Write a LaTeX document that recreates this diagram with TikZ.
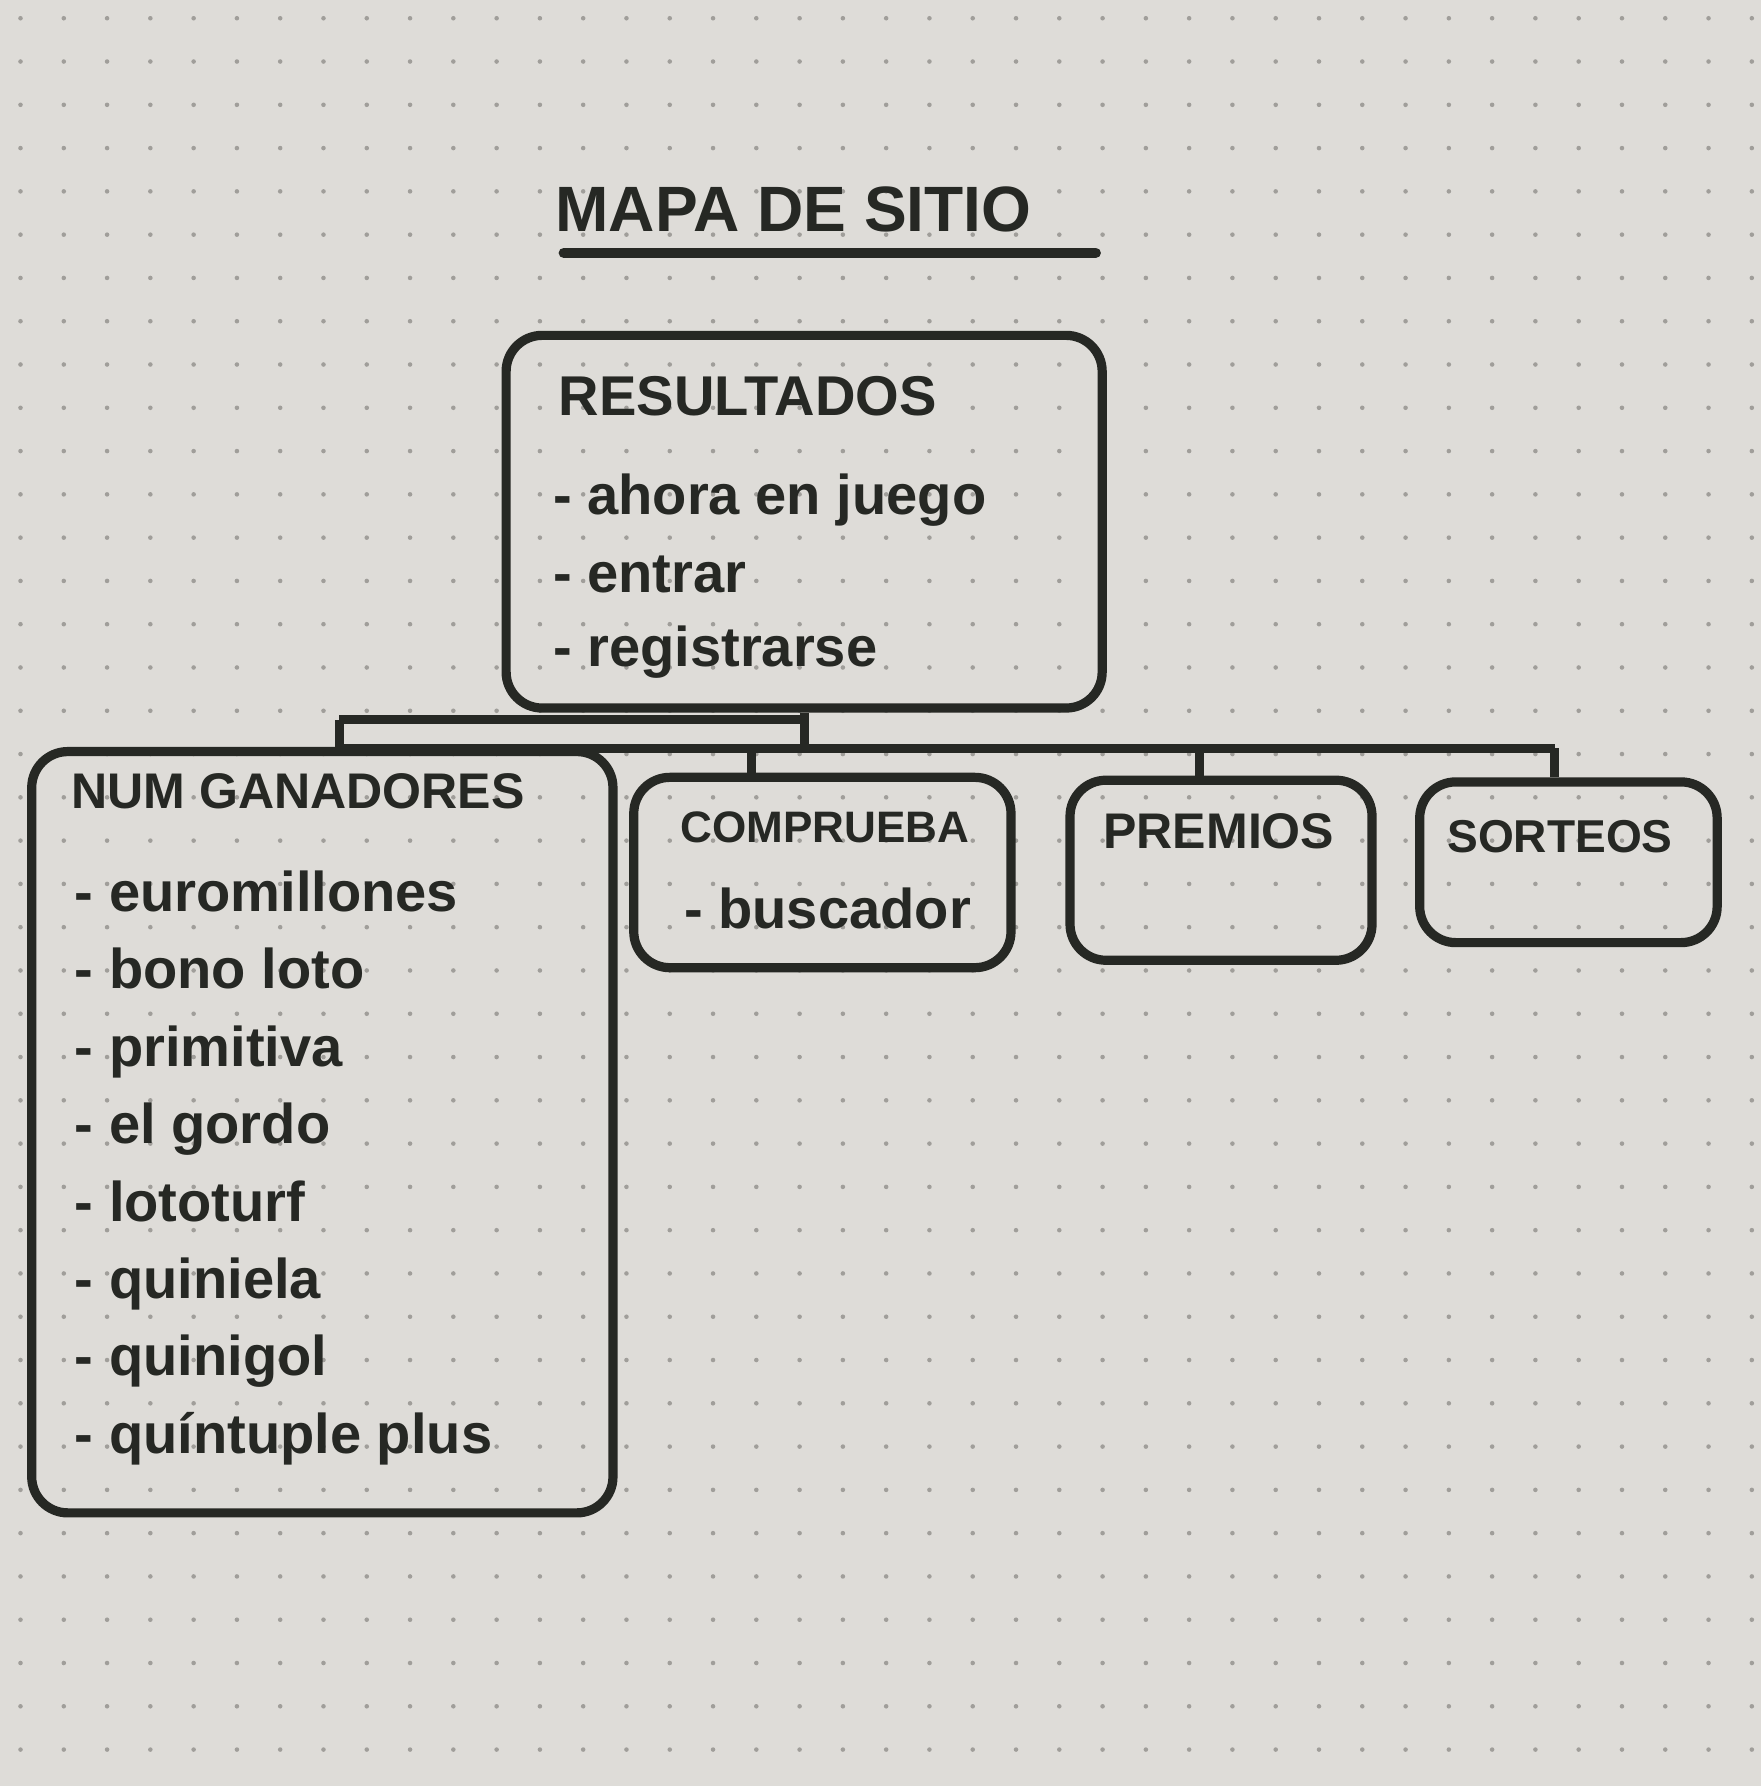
\documentclass[tikz,border=0pt]{standalone}
\usepackage{fontspec}
\setmainfont{Liberation Sans}
\definecolor{paper}{RGB}{222,220,216}
\definecolor{ink}{RGB}{38,40,36}
\definecolor{dotc}{RGB}{160,158,154}
\tikzset{
  box/.style={draw=ink, line width=2.3pt, rounded corners=9pt, inner sep=0pt},
  link/.style={draw=ink, line width=2.2pt},
  head/.style={anchor=base west, text=ink, inner sep=0pt, font=\bfseries\fontsize{12.5}{15}\selectfont},
  item/.style={anchor=base west, text=ink, inner sep=0pt, font=\bfseries\fontsize{14}{17}\selectfont},
}

\begin{document}
\begin{tikzpicture}[x=0.01cm, y=-0.01cm]
	\fill[paper] (0,0) rectangle (1546,1568);
	\useasboundingbox (0,0) rectangle (1546,1568);
	% dots of the paper
	\foreach \i in {0,...,40} \foreach \j in {0,...,41}
		\fill[dotc] (18+38*\i, 16+38*\j) circle (0.02cm);

	% title
	\node[anchor=base west, text=ink, inner sep=0pt, font=\bfseries\fontsize{16}{19}\selectfont] (title) at (487,203) {MAPA DE SITIO};
	\coordinate (ul1) at (495,222);
	\coordinate (ul2) at (962,222);
	\draw[ink, line width=2.6pt, line cap=round] (ul1) -- (ul2);

	% boxes
	\node[box, minimum width=5.23cm, minimum height=3.27cm] (res) at (706,458) {};
	\node[box, minimum width=5.10cm, minimum height=6.68cm] (num) at (283,994) {};
	\node[box, minimum width=3.31cm, minimum height=1.67cm] (com) at (722,766) {};
	\node[box, minimum width=2.65cm, minimum height=1.58cm] (pre) at (1072,764) {};
	\node[box, minimum width=2.61cm, minimum height=1.41cm] (sor) at (1377,757) {};

	% connectors
	\coordinate (j0) at (706,657);
	\coordinate (jl) at (298,657);
	\coordinate (jt) at (298,632);
	\coordinate (jc) at (660,657);
	\coordinate (jp) at (1053,657);
	\coordinate (jr) at (1365,657);
	\draw[link] (res.south) -- (j0);
	\draw[link] (jl) -- (jr);
	\draw[link] (jt) -- (jt -| res.south);
	\draw[link] (jt) -- (jt |- num.north);
	\draw[link] (jc) -- (jc |- com.north);
	\draw[link] (jp) -- (jp |- pre.north);
	\draw[link] (jr) -- (jr |- sor.north);

	% resultados
	\node[item] (resh) at (490,365) {RESULTADOS};
	\node[item] at (485,452) {- ahora en juego};
	\node[item] at (485,520) {- entrar};
	\node[item] at (485,585) {- registrarse};

	% num ganadores
	\node[head] (numh) at (62,710) {NUM GANADORES};
	\node[item] at (65,800) {- euromillones};
	\node[item] at (65,868) {- bono loto};
	\node[item] at (65,936) {- primitiva};
	\node[item] at (65,1004) {- el gordo};
	\node[item] at (65,1072) {- lototurf};
	\node[item] at (65,1140) {- quiniela};
	\node[item] at (65,1208) {- quinigol};
	\node[item] at (65,1276) {- quíntuple plus};

	% compruebe, premios, sorteos
	\node[head, font=\bfseries\fontsize{11}{13}\selectfont] (comh) at (597,740) {COMPRUEBA};
	\node[item] at (600,815) {- buscador};
	\node[head] (preh) at (968,745) {PREMIOS};
	\node[head, font=\bfseries\fontsize{11.5}{14}\selectfont] (sorh) at (1270,748) {SORTEOS};
\end{tikzpicture}
\end{document}
